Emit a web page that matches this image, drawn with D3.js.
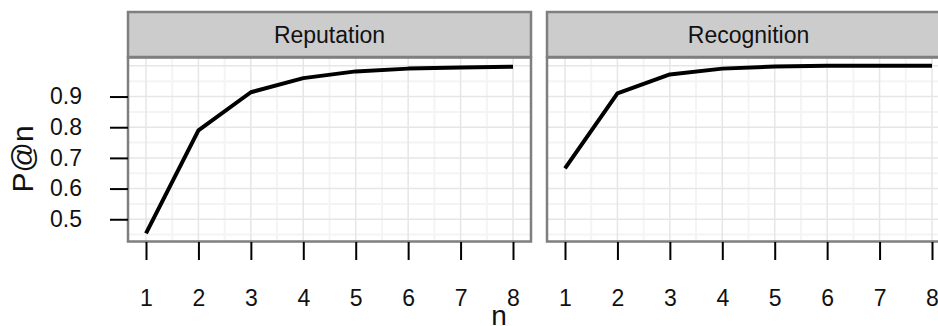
<!DOCTYPE html>
<html>
<head>
<meta charset="utf-8">
<script src="https://cdn.jsdelivr.net/npm/d3@7"></script>
<style>
  html, body { margin: 0; padding: 0; background: #fff; }
  svg { display: block; font-family: "Liberation Sans", Arial, Helvetica, sans-serif; }
</style>
</head>
<body>
<svg id="chart" width="938" height="326"></svg>
<script>
// Precision at n for each panel
const nValues = [1, 2, 3, 4, 5, 6, 7, 8];
const panels = ["Reputation", "Recognition"];
const reputation = [0.454, 0.790, 0.914, 0.960, 0.982, 0.991, 0.995, 0.997];
const recognition = [0.666, 0.910, 0.972, 0.991, 0.998, 1.000, 1.000, 1.000];
const seriesByPanel = [reputation, recognition];
const yTicks = [0.5, 0.6, 0.7, 0.8, 0.9];
const yMinor = [0.45, 0.55, 0.65, 0.75, 0.85, 0.95];
const yMajor = [0.5, 0.6, 0.7, 0.8, 0.9, 1.0];
const xMinor = [1.5, 2.5, 3.5, 4.5, 5.5, 6.5, 7.5];

const svg = d3.select("#chart");

const panelW = 403;
const panelLeft = [128, 547];
const stripTop = 12, stripH = 45;
const plotTop = 58.5, plotBottom = 241.5;

const x = d3.scaleLinear().domain([1, 8]).range([18, panelW - 18]);
const y = d3.scaleLinear().domain([0.4275, 1.024]).range([plotBottom, plotTop]);

const borderCol = "#7f7f7f";

panels.forEach((name, i) => {
  const g = svg.append("g").attr("transform", `translate(${panelLeft[i]},0)`);
  const vals = seriesByPanel[i];

  // panel background
  g.append("rect")
    .attr("x", 0).attr("y", plotTop)
    .attr("width", panelW).attr("height", plotBottom - plotTop)
    .attr("fill", "#fff");

  // minor grid
  g.selectAll(".ymin").data(yMinor).enter().append("line")
    .attr("x1", 0).attr("x2", panelW)
    .attr("y1", d => y(d)).attr("y2", d => y(d))
    .attr("stroke", "#f4f4f4").attr("stroke-width", 2);
  g.selectAll(".xmin").data(xMinor).enter().append("line")
    .attr("y1", plotTop).attr("y2", plotBottom)
    .attr("x1", d => x(d)).attr("x2", d => x(d))
    .attr("stroke", "#f4f4f4").attr("stroke-width", 2);

  // major grid
  g.selectAll(".ymaj").data(yMajor).enter().append("line")
    .attr("x1", 0).attr("x2", panelW)
    .attr("y1", d => y(d)).attr("y2", d => y(d))
    .attr("stroke", "#e6e6e6").attr("stroke-width", 1.5);
  g.selectAll(".xmaj").data(nValues).enter().append("line")
    .attr("y1", plotTop).attr("y2", plotBottom)
    .attr("x1", d => x(d)).attr("x2", d => x(d))
    .attr("stroke", "#e6e6e6").attr("stroke-width", 1.5);

  // data line
  const line = d3.line().x((d, k) => x(nValues[k])).y(d => y(d));
  g.append("path")
    .datum(vals)
    .attr("d", line)
    .attr("fill", "none")
    .attr("stroke", "#000")
    .attr("stroke-width", 4)
    .attr("stroke-linejoin", "round");

  // panel border
  g.append("rect")
    .attr("x", 0).attr("y", plotTop - 1)
    .attr("width", panelW).attr("height", plotBottom - plotTop + 1)
    .attr("fill", "none").attr("stroke", borderCol).attr("stroke-width", 2.5);

  // strip
  g.append("rect")
    .attr("x", 0).attr("y", stripTop)
    .attr("width", panelW).attr("height", stripH)
    .attr("fill", "#cccccc").attr("stroke", borderCol).attr("stroke-width", 2.5);
  g.append("text")
    .attr("x", panelW / 2).attr("y", stripTop + stripH / 2)
    .attr("dy", "0.35em")
    .attr("text-anchor", "middle")
    .attr("font-size", 23)
    .attr("fill", "#111")
    .text(name);

  // x axis
  const xAxis = d3.axisBottom(x).tickValues(nValues).tickFormat(d3.format("d"))
    .tickSize(18).tickPadding(30);
  const ax = g.append("g").attr("transform", `translate(0,${plotBottom + 0.5})`).call(xAxis);
  ax.select(".domain").remove();
  ax.selectAll(".tick line").attr("stroke", "#000").attr("stroke-width", 2);
  ax.selectAll(".tick text").attr("font-size", 23).attr("fill", "#111")
    .attr("font-family", "Liberation Sans, Arial, sans-serif");

  // y axis on the first panel only
  if (i === 0) {
    const yAxis = d3.axisLeft(y).tickValues(yTicks).tickFormat(d3.format(".1f"))
      .tickSize(18).tickPadding(28);
    const ay = g.append("g").call(yAxis);
    ay.select(".domain").remove();
    ay.selectAll(".tick line").attr("stroke", "#000").attr("stroke-width", 2);
    ay.selectAll(".tick text").attr("font-size", 23).attr("fill", "#111")
      .attr("font-family", "Liberation Sans, Arial, sans-serif");
  }
});

// axis titles
svg.append("text")
  .attr("transform", "translate(33,159) rotate(-90)")
  .attr("text-anchor", "middle")
  .attr("font-size", 30)
  .attr("fill", "#111")
  .text("P@n");

svg.append("text")
  .attr("x", 499).attr("y", 325)
  .attr("text-anchor", "middle")
  .attr("font-size", 28)
  .attr("fill", "#111")
  .text("n");
</script>
</body>
</html>
